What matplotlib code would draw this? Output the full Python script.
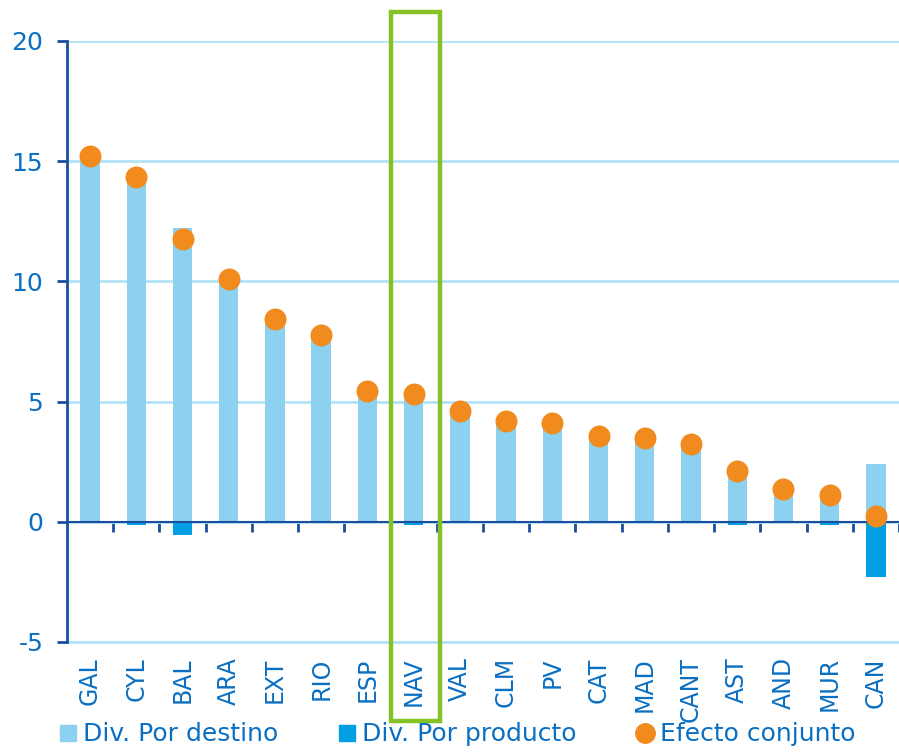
import matplotlib
matplotlib.use("Agg")
import matplotlib.pyplot as plt
from matplotlib.lines import Line2D
from matplotlib.patches import Rectangle
import numpy as np

categories = ["GAL", "CYL", "BAL", "ARA", "EXT", "RIO", "ESP", "NAV", "VAL", "CLM",
              "PV", "CAT", "MAD", "CANT", "AST", "AND", "MUR", "CAN"]
div_destino = [15.2, 14.4, 12.2, 10.05, 8.45, 7.75, 5.45, 5.45, 4.6, 4.2,
               4.1, 3.55, 3.5, 3.25, 2.2, 1.35, 1.15, 2.4]
div_producto = [0.0, -0.15, -0.55, 0.0, 0.0, 0.0, 0.0, -0.15, 0.0, 0.0,
                0.0, 0.0, 0.0, 0.0, -0.15, 0.0, -0.15, -2.3]
efecto_conjunto = [15.2, 14.33, 11.75, 10.1, 8.45, 7.75, 5.42, 5.33, 4.6, 4.2,
                   4.1, 3.58, 3.5, 3.25, 2.1, 1.35, 1.1, 0.25]
y_ticks = [-5, 0, 5, 10, 15, 20]
highlight = "NAV"

c_light = "#8dd1f0"
c_dark = "#009fe3"
c_orange = "#f28b1e"
c_text = "#0a6fc2"
c_axis = "#1a4f9e"
c_grid = "#b3e3f7"
c_green = "#84c225"

plt.rcParams['font.family'] = ['DejaVu Sans']
fig = plt.figure(figsize=(8.99, 7.52), dpi=100)
ax = fig.add_axes([0.0745, 0.1463, 0.9255, 0.7992])

x = np.arange(len(categories))
bw = 0.42
ax.bar(x, div_destino, width=bw, color=c_light, zorder=2)
ax.bar(x, div_producto, width=bw, color=c_dark, zorder=2)
ax.axhline(0, color=c_axis, lw=1.5, zorder=3)
ax.scatter(x, efecto_conjunto, s=250, color=c_orange, zorder=4, linewidths=0)

ax.set_xlim(-0.5, len(categories) - 0.5)
ax.set_ylim(-5, 20)
ax.set_yticks(y_ticks)
ax.set_yticklabels([str(v) for v in y_ticks])
ax.yaxis.grid(True, color=c_grid, lw=2, zorder=0)
ax.axhline(-5, color=c_grid, lw=2, zorder=0, clip_on=False)
ax.set_axisbelow(True)

for s in ["top", "right", "bottom"]:
    ax.spines[s].set_visible(False)
ax.spines["left"].set_color(c_axis)
ax.spines["left"].set_linewidth(2)
ax.spines["left"].set_zorder(5)
ax.tick_params(axis="y", colors=c_axis, labelcolor=c_text, labelsize=18,
               length=7, width=2, direction="out", pad=10)

ax.set_xticks(x)
ax.set_xticklabels(categories, rotation=90, color=c_text, fontsize=17)
ax.tick_params(axis="x", length=0, pad=11)

# zero line boundary ticks
ylo, yhi = ax.get_ylim()
sec = ax.secondary_xaxis((0 - ylo) / (yhi - ylo))
sec.set_xticks(np.arange(len(categories)) + 0.5)
sec.set_xticklabels([])
sec.spines["bottom"].set_visible(False)
sec.tick_params(axis="x", colors=c_axis, length=7, width=2, direction="out")

# highlight box
i = categories.index(highlight)
rect = Rectangle((i - 0.48, -8.3), 1.04, 29.5, fill=False, edgecolor=c_green,
                 lw=3.2, clip_on=False, zorder=6)
ax.add_patch(rect)

handles = [
    Line2D([], [], marker="s", ls="none", color=c_light, markersize=11),
    Line2D([], [], marker="s", ls="none", color=c_dark, markersize=11),
    Line2D([], [], marker="o", ls="none", color=c_orange, markersize=14),
]
labels = ["Div. Por destino", "Div. Por producto", "Efecto conjunto"]
leg = fig.legend(handles, labels, loc="lower left", bbox_to_anchor=(0.052, -0.009),
                 ncol=3, frameon=False, fontsize=18, handlelength=0.7,
                 handletextpad=0.25, columnspacing=2.4, borderpad=0)
for t in leg.get_texts():
    t.set_color(c_text)

fig.savefig("out.png", dpi=100)
